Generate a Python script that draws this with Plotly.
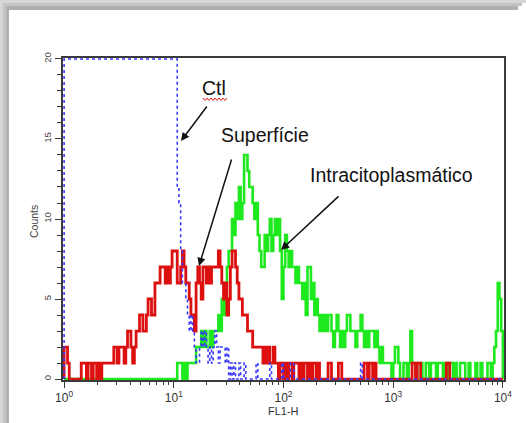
import plotly.graph_objects as go

# ---------------- data (counts per FL1-H channel, 256 log channels over 4 decades)
N_CHANNELS = 256
CHANNELS_PER_DECADE = 64

ctl_counts = [
    20, 20, 20, 20, 20, 20, 20, 20, 20, 20, 20, 20, 20, 20, 20, 20,
    20, 20, 20, 20, 20, 20, 20, 20, 20, 20, 20, 20, 20, 20, 20, 20,
    20, 20, 20, 20, 20, 20, 20, 20, 20, 20, 20, 20, 20, 20, 20, 20,
    20, 20, 20, 20, 20, 20, 20, 20, 20, 20, 20, 20, 20, 20, 20, 20,
    20, 20, 12, 11, 8, 6, 6, 5, 4, 3, 4, 3, 2, 1, 1, 2,
    3, 2, 3, 2, 1, 2, 1, 2, 3, 2, 1, 2, 2, 2, 1, 2,
    0, 1, 0, 1, 0, 0, 1, 0, 0, 1, 0, 0, 0, 0, 0, 0,
    1, 0, 0, 0, 0, 0, 0, 0, 1, 0, 0, 0, 0, 0, 0, 1,
    0, 0, 0, 0, 1, 1, 0, 0, 0, 0, 0, 0, 0, 0, 0, 0,
    0, 0, 0, 0, 0, 0, 0, 0, 0, 0, 0, 0, 0, 0, 0, 0,
    0, 0, 0, 0, 0, 0, 0, 0, 0, 0, 0, 0, 0, 1, 0, 0,
    0, 0, 0, 0, 0, 0, 0, 0, 0, 0, 0, 0, 0, 0, 0, 0,
    0, 0, 0, 0, 0, 0, 0, 0, 0, 0, 0, 0, 0, 0, 0, 0,
    0, 0, 0, 0, 0, 0, 0, 0, 0, 0, 0, 0, 0, 0, 0, 0,
    0, 0, 0, 0, 0, 0, 0, 0, 0, 0, 0, 0, 0, 0, 0, 0,
    0, 0, 0, 0, 0, 0, 0, 0, 0, 0, 0, 0, 0, 0, 0, 0,
]

superficie_counts = [
    2, 2, 1, 0, 0, 0, 0, 0, 0, 0, 1, 1, 1, 0, 1, 1,
    0, 1, 1, 0, 1, 0, 1, 1, 1, 1, 1, 1, 1, 2, 2, 1,
    2, 2, 2, 1, 2, 3, 3, 2, 1, 2, 3, 3, 4, 4, 3, 3,
    4, 5, 5, 4, 4, 6, 6, 6, 7, 7, 7, 6, 7, 6, 7, 8,
    8, 8, 6, 6, 7, 8, 7, 6, 6, 5, 4, 4, 3, 6, 7, 6,
    5, 7, 7, 6, 7, 6, 7, 7, 7, 7, 8, 7, 6, 5, 6, 4,
    5, 7, 8, 8, 7, 6, 5, 5, 4, 4, 4, 3, 3, 3, 2, 2,
    2, 2, 2, 2, 1, 2, 1, 2, 1, 1, 2, 1, 1, 0, 1, 1,
    0, 1, 0, 1, 1, 0, 1, 1, 1, 0, 1, 0, 1, 1, 0, 1,
    0, 1, 1, 0, 1, 0, 0, 0, 0, 0, 1, 1, 0, 0, 0, 0,
    1, 1, 0, 0, 0, 0, 0, 0, 0, 0, 0, 0, 0, 0, 0, 1,
    1, 0, 1, 1, 0, 1, 0, 0, 0, 0, 0, 0, 0, 0, 0, 0,
    0, 0, 0, 0, 0, 0, 0, 0, 0, 0, 0, 1, 1, 0, 1, 1,
    0, 0, 0, 0, 0, 0, 0, 0, 0, 0, 0, 0, 0, 0, 0, 1,
    1, 0, 0, 0, 0, 0, 0, 0, 0, 0, 0, 0, 0, 0, 0, 0,
    0, 0, 0, 0, 0, 0, 0, 0, 0, 0, 0, 0, 0, 0, 0, 0,
]

intracito_counts = [
    0, 0, 0, 0, 0, 0, 0, 0, 0, 0, 0, 0, 0, 0, 0, 0,
    0, 0, 0, 0, 0, 0, 0, 0, 0, 0, 0, 0, 0, 0, 0, 0,
    0, 0, 0, 0, 0, 0, 0, 0, 0, 0, 0, 0, 0, 0, 0, 0,
    0, 0, 0, 0, 0, 0, 0, 0, 0, 0, 0, 0, 0, 0, 0, 0,
    0, 0, 1, 1, 1, 0, 1, 0, 1, 1, 1, 1, 1, 2, 2, 2,
    3, 2, 3, 2, 2, 3, 2, 3, 3, 3, 4, 3, 5, 4, 6, 7,
    8, 8, 10, 9, 11, 10, 12, 10, 11, 14, 14, 13, 12, 12, 11, 10,
    11, 9, 8, 7, 7, 9, 8, 9, 10, 8, 9, 10, 9, 10, 8, 5,
    7, 9, 8, 7, 8, 7, 7, 6, 7, 6, 6, 5, 6, 4, 7, 7,
    5, 6, 4, 5, 4, 3, 4, 3, 4, 3, 4, 4, 3, 2, 3, 4,
    3, 2, 3, 2, 3, 4, 4, 3, 3, 3, 2, 3, 3, 4, 3, 2,
    3, 2, 3, 3, 3, 2, 3, 2, 1, 2, 1, 1, 1, 1, 1, 0,
    1, 2, 2, 1, 0, 0, 1, 1, 0, 1, 3, 1, 1, 0, 1, 1,
    1, 0, 0, 1, 1, 0, 1, 1, 1, 0, 1, 1, 1, 0, 1, 1,
    0, 1, 1, 0, 1, 0, 0, 1, 1, 1, 0, 0, 1, 0, 0, 0,
    1, 0, 0, 1, 0, 0, 0, 1, 1, 0, 1, 2, 3, 6, 5, 3,
]

x_tick_vals = [1, 10, 100, 1000, 10000]
x_tick_text = ["10<sup>0</sup>", "10<sup>1</sup>", "10<sup>2</sup>", "10<sup>3</sup>", "10<sup>4</sup>"]
y_tick_vals = [0, 5, 10, 15, 20]
y_tick_text = ["0", "5", "10", "15", "20"]

assert len(ctl_counts) == N_CHANNELS
assert len(superficie_counts) == N_CHANNELS
assert len(intracito_counts) == N_CHANNELS

# ---------------- layout geometry (pixels)
W, H = 526, 423
L, T, PW, PH = 63, 58, 441, 322
R = W - L - PW
B = H - T - PH


def P(x, y):
    """pixel -> paper coordinates"""
    return (x - L) / PW, (T + PH - y) / PH


FONT = "Liberation Sans, Arial, sans-serif"

# channel left edges on the FL1-H log scale
edges = [10 ** (k / CHANNELS_PER_DECADE) for k in range(N_CHANNELS)] + [10 ** (N_CHANNELS / CHANNELS_PER_DECADE)]


def step_xy(counts):
    xs = [edges[0]] + edges[:N_CHANNELS] + [edges[-1]]
    ys = [0] + list(counts) + [0]
    return xs, ys


fig = go.Figure()

gx, gy = step_xy(intracito_counts)
fig.add_trace(go.Scatter(x=gx, y=gy, mode="lines", line=dict(color="#1ee81e", width=2.6, shape="hv"),
                         name="Intracitoplasmático", hoverinfo="skip"))
rx, ry = step_xy(superficie_counts)
fig.add_trace(go.Scatter(x=rx, y=ry, mode="lines", line=dict(color="#dd1010", width=2.8, shape="hv"),
                         name="Superfície", hoverinfo="skip"))
bx, by = step_xy(ctl_counts)
fig.add_trace(go.Scatter(x=bx, y=by, mode="lines", line=dict(color="#3a3aff", width=1.6, shape="hv", dash="dot"),
                         name="Ctl", hoverinfo="skip"))

minor_x = [m * 10 ** d for d in range(4) for m in range(2, 10)]

axis_col = "#3a3a3a"
fig.update_xaxes(
    type="log", range=[-0.01, 4.01],
    showline=True, mirror=True, linecolor=axis_col, linewidth=1.5,
    ticks="outside", ticklen=6, tickwidth=1, tickcolor=axis_col,
    tickmode="array", tickvals=x_tick_vals, ticktext=x_tick_text,
    tickfont=dict(family=FONT, size=12, color="#333333"),
    showgrid=False, zeroline=False, layer="below traces",
    minor=dict(tickmode="array", tickvals=minor_x, ticks="outside", ticklen=3.5,
               tickwidth=1, tickcolor=axis_col, showgrid=False),
)
fig.update_yaxes(
    range=[-0.06, 20.06],
    showline=True, mirror=True, linecolor=axis_col, linewidth=1.5,
    ticks="outside", ticklen=6, tickwidth=1, tickcolor=axis_col,
    tickmode="array", tickvals=y_tick_vals, ticktext=y_tick_text, tickangle=-90,
    tickfont=dict(family=FONT, size=9.5, color="#444444"),
    showgrid=False, zeroline=False, layer="below traces",
    minor=dict(dtick=1, ticks="outside", ticklen=4, tickwidth=1, tickcolor=axis_col, showgrid=False),
)

annotations = []


def text_at(x, y, s, size, color="#111111", angle=0):
    px, py = P(x, y)
    annotations.append(dict(x=px, y=py, xref="paper", yref="paper", text=s, showarrow=False,
                            xanchor="center", yanchor="middle", textangle=angle,
                            font=dict(family=FONT, size=size, color=color)))


def arrow(hx, hy, tx, ty):
    px, py = P(hx, hy)
    annotations.append(dict(x=px, y=py, xref="paper", yref="paper", text="", showarrow=True,
                            ax=tx - hx, ay=ty - hy, axref="pixel", ayref="pixel",
                            arrowhead=2, arrowsize=1.1, arrowwidth=1.5, arrowcolor="#111111",
                            standoff=0))


text_at(214, 88, "Ctl", 19.5)
text_at(264.5, 135, "Superfície", 19.5)
text_at(391.5, 175, "Intracitoplasmático", 19.5)
text_at(34, 222, "Counts", 10.5, color="#444444", angle=-90)
text_at(283, 411, "FL1-H", 11, color="#333333")

arrow(181, 141, 208, 105)
arrow(199, 266, 232, 158)
arrow(281, 250, 340, 195)

shapes = []


def rect(x0, y0, x1, y1, color):
    a0, b0 = P(x0, y1)
    a1, b1 = P(x1, y0)
    shapes.append(dict(type="rect", xref="paper", yref="paper", x0=a0, y0=b0, x1=a1, y1=b1,
                       fillcolor=color, line=dict(width=0), layer="below"))


# picture frame shadow (left and top)
rect(0, 0, 526, 3, "#d6d6d6")
rect(0, 3, 522, 6, "#c4c4c4")
rect(0, 6, 518, 10, "#b0b0b0")
rect(0, 0, 3, 423, "#d6d6d6")
rect(3, 3, 6, 423, "#c4c4c4")
rect(6, 6, 9, 423, "#b0b0b0")

# red spell-check squiggle under "Ctl"
pts = []
xq = 203
i = 0
while xq <= 227:
    pts.append(P(xq, 98 if i % 2 == 0 else 100.5))
    xq += 2
    i += 1
path = "M " + " L ".join(f"{a:.5f},{b:.5f}" for a, b in pts)
shapes.append(dict(type="path", xref="paper", yref="paper", path=path,
                   line=dict(color="#e02020", width=1)))

fig.update_layout(
    width=W, height=H,
    margin=dict(l=L, r=R, t=T, b=B, pad=0),
    paper_bgcolor="white", plot_bgcolor="white",
    showlegend=False,
    annotations=annotations,
    shapes=shapes,
)

fig.write_html("out.html")
